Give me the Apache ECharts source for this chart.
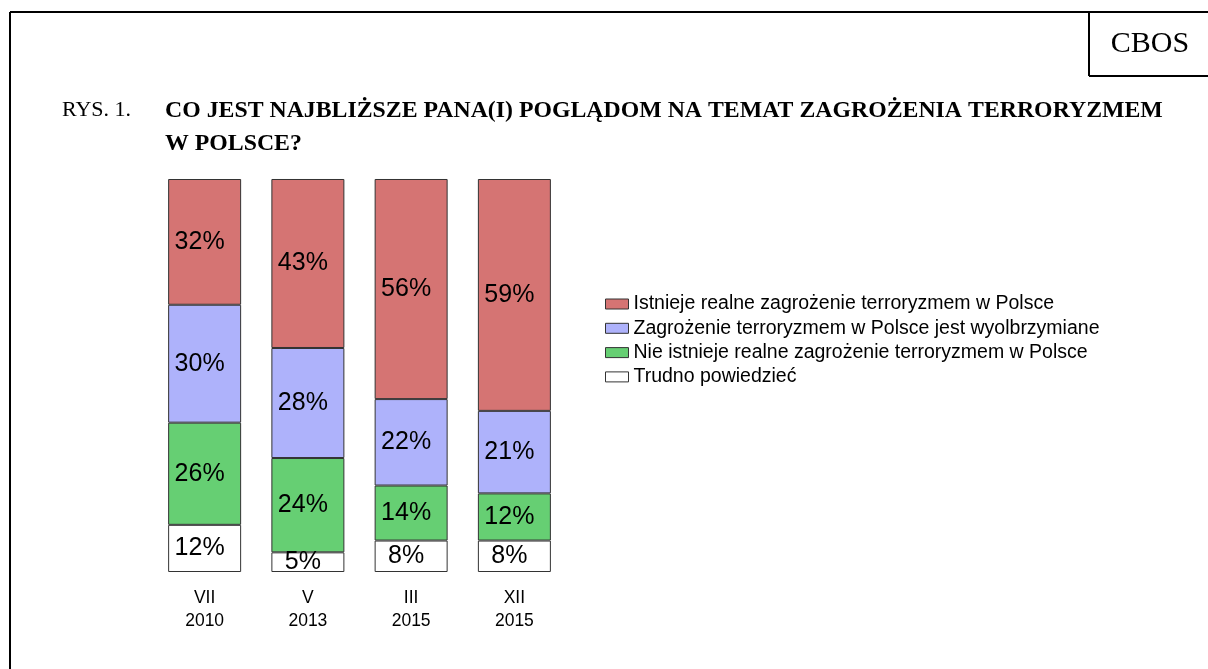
<!DOCTYPE html>
<html>
<head>
<meta charset="utf-8">
<script src="https://cdn.jsdelivr.net/npm/echarts@6/dist/echarts.min.js"></script>
<style>
  html, body { margin: 0; padding: 0; background: #fff; }
  #chart { width: 1208px; height: 669px; }
</style>
</head>
<body>
<div id="chart"></div>
<script>
// okresy badania (os X)
const categories = ['VII\n2010', 'V\n2013', 'III\n2015', 'XII\n2015']

// odpowiedzi w %
const istnieje = [32, 43, 56, 59]
const wyolbrzymiane = [30, 28, 22, 21]
const nieIstnieje = [26, 24, 14, 12]
const trudno = [12, 5, 8, 8]

const names = [
  'Istnieje realne zagrożenie terroryzmem w Polsce',
  'Zagrożenie terroryzmem w Polsce jest wyolbrzymiane',
  'Nie istnieje realne zagrożenie terroryzmem w Polsce',
  'Trudno powiedzieć'
]
const colors = ['#d57473', '#aeb2fb', '#66cf73', '#ffffff']

const sans = '"Liberation Sans", Arial, sans-serif'
const serif = '"Liberation Serif", "Times New Roman", serif'

function barSeries(name, data, color) {
  return {
    name,
    type: 'bar',
    stack: 'all',
    barWidth: 73,
    data,
    itemStyle: { color, borderColor: '#333', borderWidth: 1 },
    label: {
      show: true,
      position: 'inside',
      offset: [-5, 0],
      formatter: '{c}%',
      color: '#000',
      fontFamily: sans,
      fontSize: 25
    },
    emphasis: { disabled: true }
  }
}

const chart = echarts.init(document.getElementById('chart'))

const option = {
  animation: false,
  grid: { left: 153, top: 179, width: 413, height: 393 },
  xAxis: {
    type: 'category',
    data: categories,
    axisLine: { show: false },
    axisTick: { show: false },
    axisLabel: {
      margin: 15,
      color: '#000',
      fontFamily: sans,
      fontSize: 17.5,
      lineHeight: 23
    }
  },
  yAxis: { type: 'value', min: 0, max: 100, show: false },
  legend: {
    orient: 'vertical',
    left: 605,
    top: 294,
    padding: 0,
    icon: 'rect',
    itemWidth: 23,
    itemHeight: 10,
    itemGap: 4.3,
    data: names,
    itemStyle: { borderColor: '#333', borderWidth: 1 },
    textStyle: { color: '#000', fontFamily: sans, fontSize: 19.5, lineHeight: 20 }
  },
  series: [
    barSeries(names[3], trudno, colors[3]),
    barSeries(names[2], nieIstnieje, colors[2]),
    barSeries(names[1], wyolbrzymiane, colors[1]),
    barSeries(names[0], istnieje, colors[0])
  ],
  graphic: [
    // ramka
    { type: 'line', shape: { x1: 10, y1: 12, x2: 1208, y2: 12 }, style: { stroke: '#000', lineWidth: 2 } },
    { type: 'line', shape: { x1: 10, y1: 12, x2: 10, y2: 669 }, style: { stroke: '#000', lineWidth: 2 } },
    // ramka CBOS
    { type: 'line', shape: { x1: 1089, y1: 12, x2: 1089, y2: 76 }, style: { stroke: '#000', lineWidth: 2 } },
    { type: 'line', shape: { x1: 1089, y1: 76, x2: 1208, y2: 76 }, style: { stroke: '#000', lineWidth: 2 } },
    {
      type: 'text', x: 1150, y: 44,
      style: { text: 'CBOS', fill: '#000', font: '30px ' + serif, align: 'center', verticalAlign: 'middle' }
    },
    {
      type: 'text', x: 62, y: 110,
      style: { text: 'RYS. 1.', fill: '#000', font: '22px ' + serif, verticalAlign: 'middle' }
    },
    {
      type: 'text', x: 165, y: 94,
      style: {
        text: 'CO JEST NAJBLIŻSZE PANA(I) POGLĄDOM NA TEMAT ZAGROŻENIA TERRORYZMEM\nW POLSCE?',
        fill: '#000', font: 'bold 23.8px ' + serif, lineHeight: 33
      }
    }
  ]
}

chart.setOption(option)
</script>
</body>
</html>
